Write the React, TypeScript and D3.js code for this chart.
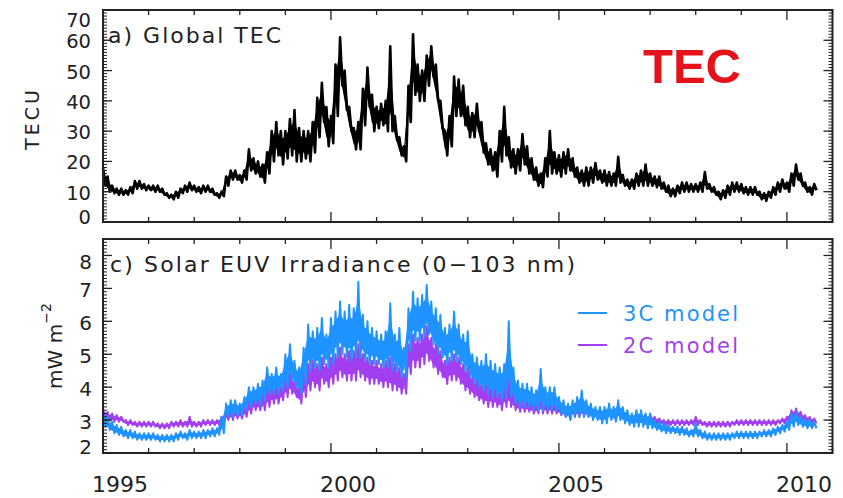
import React from "react";
import * as d3 from "d3";

// Samples every 0.1 yr starting at 1995.0 (157 samples, through 2010.6).
// Each series is stored as the lower and upper edge of its day-to-day spread.
const START_YEAR = 1995.0;
const STEP = 0.1;

const tecLow = [
  12, 10, 9.5, 9, 9, 9, 9.5, 11, 11, 10.5,
  10.5, 10, 10, 9, 8, 7.5, 8, 9.5, 10, 10.5,
  10, 9.5, 10, 10, 9, 8, 8.5, 12, 14, 14,
  13, 14, 17, 16, 15, 13, 16, 20, 22, 19,
  21, 22, 20, 20, 21, 20, 23, 28, 33, 25,
  26, 35, 45, 37, 30, 24, 24, 32, 38, 30,
  31, 32, 30, 30, 27, 22, 20, 33, 42, 40,
  40, 45, 48, 40, 31, 22, 25, 35, 35, 32,
  28, 28, 30, 23, 19, 17, 15, 20, 22, 18,
  16, 17, 19, 16, 14, 12, 11.5, 15, 16, 16,
  15, 16, 17, 15, 13, 12, 12, 13, 14, 13,
  12, 12, 12, 13, 12, 11, 11, 12, 12, 12,
  12, 11.5, 11, 10, 8.5, 8.5, 9.5, 10, 10, 10,
  10, 10, 11, 10, 9, 7.5, 8, 9, 10, 10,
  9.5, 9, 9, 9, 7.5, 7, 8, 9, 10, 11,
  10, 12, 14, 12, 10, 9, 10.5,
];
const tecHigh = [
  18, 15, 12, 11, 11, 10.5, 11.5, 13.5, 13.5, 12.5,
  12, 12, 12, 11, 9.5, 9, 10, 11, 12, 13,
  12, 11.5, 12, 12, 11, 9.5, 10, 15, 17, 17,
  15.5, 17, 24, 21, 20, 19, 23, 30, 33, 30,
  30, 34, 37, 31, 30, 30, 33, 41, 46, 38,
  35, 52, 61, 50, 38, 31, 33, 44, 51, 42,
  38, 39, 40, 58, 35, 28, 25, 45, 62, 52,
  50, 55, 58, 52, 40, 30, 35, 48, 47, 45,
  38, 36, 39, 33, 26, 24, 23, 30, 38, 28,
  24, 24, 29, 25, 21, 18, 16, 21, 30, 23,
  22, 23, 24, 21, 18, 17, 18, 18, 19.5, 17,
  17, 16.5, 16, 21.5, 15.5, 14, 14, 16, 17, 19,
  16, 15, 15, 13, 12, 11, 12, 13, 13, 12.5,
  12.5, 13, 16.5, 12.5, 11.5, 10, 10.5, 12, 13, 13,
  12.5, 11.5, 11.5, 11.5, 10, 9.5, 10, 11.5, 13, 14,
  13, 16, 19, 16, 13, 11.5, 12.5,
];

// EUV irradiance, 3C model
const euv3cLow = [
  2.8, 2.7, 2.6, 2.55, 2.5, 2.45, 2.45, 2.4, 2.4, 2.4,
  2.4, 2.4, 2.35, 2.35, 2.35, 2.35, 2.4, 2.45, 2.4, 2.45,
  2.45, 2.45, 2.45, 2.5, 2.5, 2.55, 2.6, 3.1, 3.1, 3.15,
  3.15, 3.3, 3.4, 3.5, 3.45, 3.6, 3.8, 3.8, 3.8, 3.9,
  4.0, 4.2, 4.0, 3.8, 4.1, 4.5, 4.6, 4.5, 4.7, 4.6,
  4.7, 4.9, 5.0, 4.9, 4.8, 4.9, 4.9, 4.8, 4.7, 4.7,
  4.7, 4.6, 4.6, 4.5, 4.5, 4.3, 4.3, 5.1, 5.4, 5.4,
  5.5, 5.6, 5.3, 5.0, 4.9, 4.7, 4.8, 4.8, 4.7, 4.5,
  4.3, 4.1, 4.0, 3.9, 3.8, 3.7, 3.7, 3.6, 3.7, 3.7,
  3.5, 3.4, 3.4, 3.4, 3.3, 3.3, 3.3, 3.3, 3.3, 3.3,
  3.2, 3.1, 3.0, 3.1, 3.1, 3.1, 3.1, 3.0, 3.0, 2.9,
  2.9, 3.0, 2.95, 3.0, 2.9, 2.85, 2.8, 2.8, 2.8, 2.75,
  2.75, 2.7, 2.65, 2.6, 2.6, 2.6, 2.55, 2.55, 2.5, 2.5,
  2.5, 2.45, 2.4, 2.4, 2.4, 2.4, 2.4, 2.4, 2.45, 2.45,
  2.45, 2.45, 2.45, 2.45, 2.5, 2.5, 2.5, 2.55, 2.6, 2.65,
  2.7, 2.8, 2.85, 2.8, 2.75, 2.75, 2.75,
];
const euv3cHigh = [
  3.25, 3.1, 2.95, 2.85, 2.8, 2.7, 2.7, 2.65, 2.6, 2.6,
  2.6, 2.6, 2.55, 2.55, 2.55, 2.55, 2.6, 2.65, 2.6, 2.7,
  2.65, 2.65, 2.7, 2.7, 2.75, 2.75, 3.1, 3.5, 3.6, 3.6,
  3.5, 3.7, 4.0, 4.0, 4.1, 4.2, 4.6, 4.4, 4.6, 4.4,
  5.0, 5.3, 4.8, 4.6, 5.2, 5.9, 5.7, 5.8, 6.1, 5.6,
  6.1, 6.3, 6.6, 6.3, 6.5, 6.4, 7.2, 6.2, 6.0, 5.8,
  5.7, 5.6, 5.7, 6.55, 5.6, 5.8, 5.2, 6.4, 6.9, 6.7,
  6.8, 7.1, 6.6, 6.4, 6.2, 5.8, 5.9, 6.3, 5.9, 5.6,
  5.7, 5.0, 4.9, 4.8, 5.0, 4.8, 4.7, 4.6, 4.7, 6.0,
  4.6, 4.2, 4.1, 4.1, 4.0, 3.9, 4.55, 4.0, 4.0, 4.0,
  3.7, 3.6, 3.5, 3.6, 3.7, 3.9, 3.6, 3.5, 3.4, 3.4,
  3.4, 3.5, 3.4, 3.6, 3.4, 3.3, 3.2, 3.3, 3.3, 3.2,
  3.2, 3.0, 2.95, 2.9, 2.85, 2.8, 2.8, 2.8, 2.75, 2.7,
  2.9, 2.7, 2.65, 2.6, 2.6, 2.6, 2.6, 2.6, 2.6, 2.65,
  2.65, 2.65, 2.65, 2.65, 2.65, 2.7, 2.7, 2.75, 2.8, 2.85,
  2.95, 3.2, 3.25, 3.1, 3.05, 3.0, 2.95,
];

// EUV irradiance, 2C model
const euv2cLow = [
  3.05, 3.0, 2.95, 2.95, 2.95, 2.85, 2.85, 2.8, 2.8, 2.8,
  2.8, 2.8, 2.75, 2.75, 2.75, 2.8, 2.8, 2.8, 2.8, 2.8,
  2.8, 2.8, 2.85, 2.85, 2.85, 2.85, 2.9, 3.0, 3.0, 3.05,
  3.05, 3.1, 3.2, 3.3, 3.3, 3.3, 3.4, 3.5, 3.5, 3.6,
  3.7, 3.8, 3.7, 3.5, 3.7, 3.9, 4.0, 3.9, 4.1, 4.0,
  4.1, 4.2, 4.3, 4.2, 4.2, 4.2, 4.3, 4.2, 4.1, 4.1,
  4.1, 4.0, 4.0, 3.9, 3.9, 3.8, 3.8, 4.4, 4.6, 4.6,
  4.7, 4.8, 4.6, 4.4, 4.3, 4.1, 4.2, 4.2, 4.1, 3.9,
  3.8, 3.7, 3.6, 3.5, 3.4, 3.4, 3.4, 3.3, 3.4, 3.4,
  3.3, 3.25, 3.25, 3.25, 3.2, 3.2, 3.2, 3.2, 3.2, 3.2,
  3.15, 3.1, 3.05, 3.1, 3.1, 3.1, 3.1, 3.05, 3.05, 3.0,
  3.0, 3.05, 3.0, 3.05, 3.0, 3.0, 2.95, 2.95, 2.95, 2.95,
  2.95, 2.9, 2.9, 2.85, 2.85, 2.85, 2.85, 2.85, 2.85, 2.85,
  2.85, 2.85, 2.8, 2.8, 2.8, 2.8, 2.8, 2.8, 2.85, 2.85,
  2.85, 2.85, 2.85, 2.85, 2.85, 2.85, 2.85, 2.85, 2.9, 2.9,
  2.95, 3.0, 3.05, 3.0, 2.95, 2.9, 2.9,
];
const euv2cHigh = [
  3.35, 3.25, 3.2, 3.15, 3.1, 3.0, 3.0, 2.95, 2.95, 2.95,
  2.95, 2.95, 2.9, 2.9, 2.9, 2.95, 2.95, 3.0, 2.95, 3.1,
  2.95, 2.95, 3.0, 3.0, 3.0, 3.0, 3.1, 3.3, 3.35, 3.35,
  3.3, 3.4, 3.6, 3.7, 3.7, 3.8, 4.0, 4.0, 4.1, 4.0,
  4.3, 4.5, 4.2, 4.0, 4.4, 4.7, 4.8, 4.7, 4.9, 4.7,
  4.9, 5.0, 5.2, 5.0, 5.1, 5.1, 5.3, 5.0, 4.9, 4.8,
  4.8, 4.7, 4.8, 4.9, 4.7, 4.6, 4.4, 5.3, 5.6, 5.5,
  5.6, 5.85, 5.5, 5.3, 5.1, 4.8, 4.9, 5.0, 4.9, 4.7,
  4.6, 4.3, 4.2, 4.1, 4.2, 4.1, 4.0, 4.0, 4.0, 4.3,
  3.9, 3.7, 3.7, 3.6, 3.6, 3.5, 3.8, 3.6, 3.6, 3.55,
  3.5, 3.4, 3.35, 3.4, 3.45, 3.55, 3.4, 3.35, 3.3, 3.3,
  3.3, 3.35, 3.3, 3.4, 3.3, 3.2, 3.15, 3.2, 3.2, 3.15,
  3.15, 3.1, 3.05, 3.0, 3.0, 3.0, 3.0, 3.0, 3.0, 3.0,
  3.1, 3.0, 2.95, 2.95, 2.95, 2.95, 2.95, 2.95, 2.95, 3.0,
  3.0, 3.0, 3.0, 3.0, 3.0, 3.0, 3.0, 3.0, 3.0, 3.05,
  3.1, 3.3, 3.35, 3.25, 3.15, 3.1, 3.05,
];

const yearTicks = d3.range(1995, 2012);
const yearLabels = [1995, 2000, 2005, 2010];
const tecTicks = [0, 10, 20, 30, 40, 50, 60, 70];
const euvTicks = [2, 3, 4, 5, 6, 7, 8];

const COLOR_3C = "#1f93ff";
const COLOR_2C = "#a23ff0";
const legendItems = [
  { label: "3C model", color: COLOR_3C },
  { label: "2C model", color: COLOR_2C },
];

const INK = "#222";
const FONT = "'DejaVu Sans', Verdana, sans-serif";

const LEFT = 103;
const RIGHT = 832.5;
const TOP_PANEL = { top: 10, bottom: 222 };
const BOT_PANEL = { top: 239, bottom: 453 };

const x = d3.scaleLinear().domain([1995, 2011]).range([LEFT, RIGHT]);
const yTec = d3.scaleLinear().domain([0, 70]).range([TOP_PANEL.bottom, TOP_PANEL.top]);
const yEuv = d3.scaleLinear().domain([2, 8.5]).range([BOT_PANEL.bottom, BOT_PANEL.top]);

type Row = { t: number; lo: number; hi: number };

function rows(low: number[], high: number[]): Row[] {
  return low.map((lo, i) => ({ t: START_YEAR + i * STEP, lo, hi: high[i] }));
}

// Saw-tooth path alternating between the upper and lower edge, giving the
// band its ragged day-to-day texture.
function zigzag(data: Row[]): [number, number][] {
  const pts: [number, number][] = [];
  data.forEach((d) => {
    pts.push([d.t, d.hi]);
    pts.push([d.t + STEP / 2, d.lo]);
  });
  return pts;
}

function Band({
  low,
  high,
  y,
  color,
  width,
}: {
  low: number[];
  high: number[];
  y: d3.ScaleLinear<number, number>;
  color: string;
  width: number;
}) {
  const data = rows(low, high);
  // solid core covering the middle of the spread
  const core = d3
    .area<Row>()
    .x((d) => x(d.t))
    .y0((d) => y(d.lo + 0.22 * (d.hi - d.lo)))
    .y1((d) => y(d.hi - 0.22 * (d.hi - d.lo)));
  const saw = d3
    .line<[number, number]>()
    .x((d) => x(d[0]))
    .y((d) => y(d[1]));
  return (
    <g>
      <path d={core(data) || ""} fill={color} stroke="none" />
      <path
        d={saw(zigzag(data)) || ""}
        fill="none"
        stroke={color}
        strokeWidth={width}
        strokeLinejoin="round"
      />
    </g>
  );
}

function Frame({
  y,
  panel,
  majors,
  minorStep,
}: {
  y: d3.ScaleLinear<number, number>;
  panel: { top: number; bottom: number };
  majors: number[];
  minorStep: number;
}) {
  const [d0, d1] = y.domain();
  const minors = d3.range(d0, d1 + 1e-6, minorStep);
  return (
    <g stroke={INK} fill="none">
      {minors.map((v, i) => (
        <g key={"m" + i} strokeWidth={1}>
          <line x1={LEFT} x2={LEFT + 4} y1={y(v)} y2={y(v)} />
          <line x1={RIGHT} x2={RIGHT - 4} y1={y(v)} y2={y(v)} />
        </g>
      ))}
      {majors.map((v) => (
        <g key={"M" + v} strokeWidth={1.3}>
          <line x1={LEFT} x2={LEFT + 9} y1={y(v)} y2={y(v)} />
          <line x1={RIGHT} x2={RIGHT - 9} y1={y(v)} y2={y(v)} />
        </g>
      ))}
      {yearTicks.map((yr) => {
        const len = yr % 5 === 0 ? 10 : 5;
        return (
          <g key={"x" + yr} strokeWidth={1.3}>
            <line x1={x(yr)} x2={x(yr)} y1={panel.bottom} y2={panel.bottom - len} />
            <line x1={x(yr)} x2={x(yr)} y1={panel.top} y2={panel.top + len} />
          </g>
        );
      })}
      <rect
        x={LEFT}
        y={panel.top}
        width={RIGHT - LEFT}
        height={panel.bottom - panel.top}
        strokeWidth={2}
      />
    </g>
  );
}

export default function App() {
  // tick labels at the ends of each axis are pulled inside the frame
  const tecLabelY = (v: number) => Math.min(Math.max(yTec(v) + 1.5, 20), 217);
  const euvLabelY = (v: number) => Math.min(Math.max(yEuv(v) + 1.5, 262), 447);

  return (
    <svg
      width={843}
      height={498}
      viewBox="0 0 843 498"
      style={{ position: "absolute", left: 0, top: 0, background: "#fff" }}
      fontFamily={FONT}
    >
      <rect width={843} height={498} fill="#fff" />

      {/* Panel a: global TEC */}
      <Band low={tecLow} high={tecHigh} y={yTec} color="#000" width={2.6} />
      <Frame y={yTec} panel={TOP_PANEL} majors={tecTicks} minorStep={1} />
      {tecTicks.map((v) => (
        <text
          key={v}
          x={91}
          y={tecLabelY(v)}
          textAnchor="end"
          dominantBaseline="central"
          fontSize={19.5}
          fill={INK}
        >
          {v}
        </text>
      ))}
      <text
        transform="translate(32,120) rotate(-90)"
        textAnchor="middle"
        dominantBaseline="central"
        fontSize={19}
        textLength={60}
        lengthAdjust="spacing"
        fill={INK}
      >
        TECU
      </text>
      <text x={108} y={43} fontSize={22} fill={INK} textLength={173} lengthAdjust="spacing">
        a) Global TEC
      </text>
      <text
        x={643}
        y={83}
        fontSize={49}
        fontWeight="bold"
        fontFamily="'Liberation Sans', Arial, sans-serif"
        fill="#e3121b"
      >
        TEC
      </text>

      {/* Panel c: solar EUV irradiance */}
      <Band low={euv2cLow} high={euv2cHigh} y={yEuv} color={COLOR_2C} width={2} />
      <Band low={euv3cLow} high={euv3cHigh} y={yEuv} color={COLOR_3C} width={2} />
      <Frame y={yEuv} panel={BOT_PANEL} majors={euvTicks} minorStep={0.1} />
      {euvTicks.map((v) => (
        <text
          key={v}
          x={92}
          y={euvLabelY(v)}
          textAnchor="end"
          dominantBaseline="central"
          fontSize={20}
          fill={INK}
        >
          {v}
        </text>
      ))}
      <text
        transform="translate(55,346) rotate(-90)"
        textAnchor="middle"
        dominantBaseline="central"
        fontSize={20}
        fill={INK}
      >
        mW m
        <tspan dy={-9} fontSize={14}>
          −2
        </tspan>
      </text>
      <text x={110} y={272} fontSize={22} fill={INK} textLength={465} lengthAdjust="spacing">
        c) Solar EUV Irradiance (0−103 nm)
      </text>

      {legendItems.map((item, i) => {
        const ly = 313 + i * 32;
        return (
          <g key={item.label}>
            <line x1={578} x2={607} y1={ly} y2={ly} stroke={item.color} strokeWidth={2} />
            <text
              x={623}
              y={ly + 8}
              fontSize={21}
              fill={item.color}
              textLength={115}
              lengthAdjust="spacing"
            >
              {item.label}
            </text>
          </g>
        );
      })}

      {/* shared year axis */}
      {yearLabels.map((yr) => (
        <text key={yr} x={x(yr) + 17} y={492} textAnchor="middle" fontSize={22} fill={INK}>
          {yr}
        </text>
      ))}
    </svg>
  );
}
